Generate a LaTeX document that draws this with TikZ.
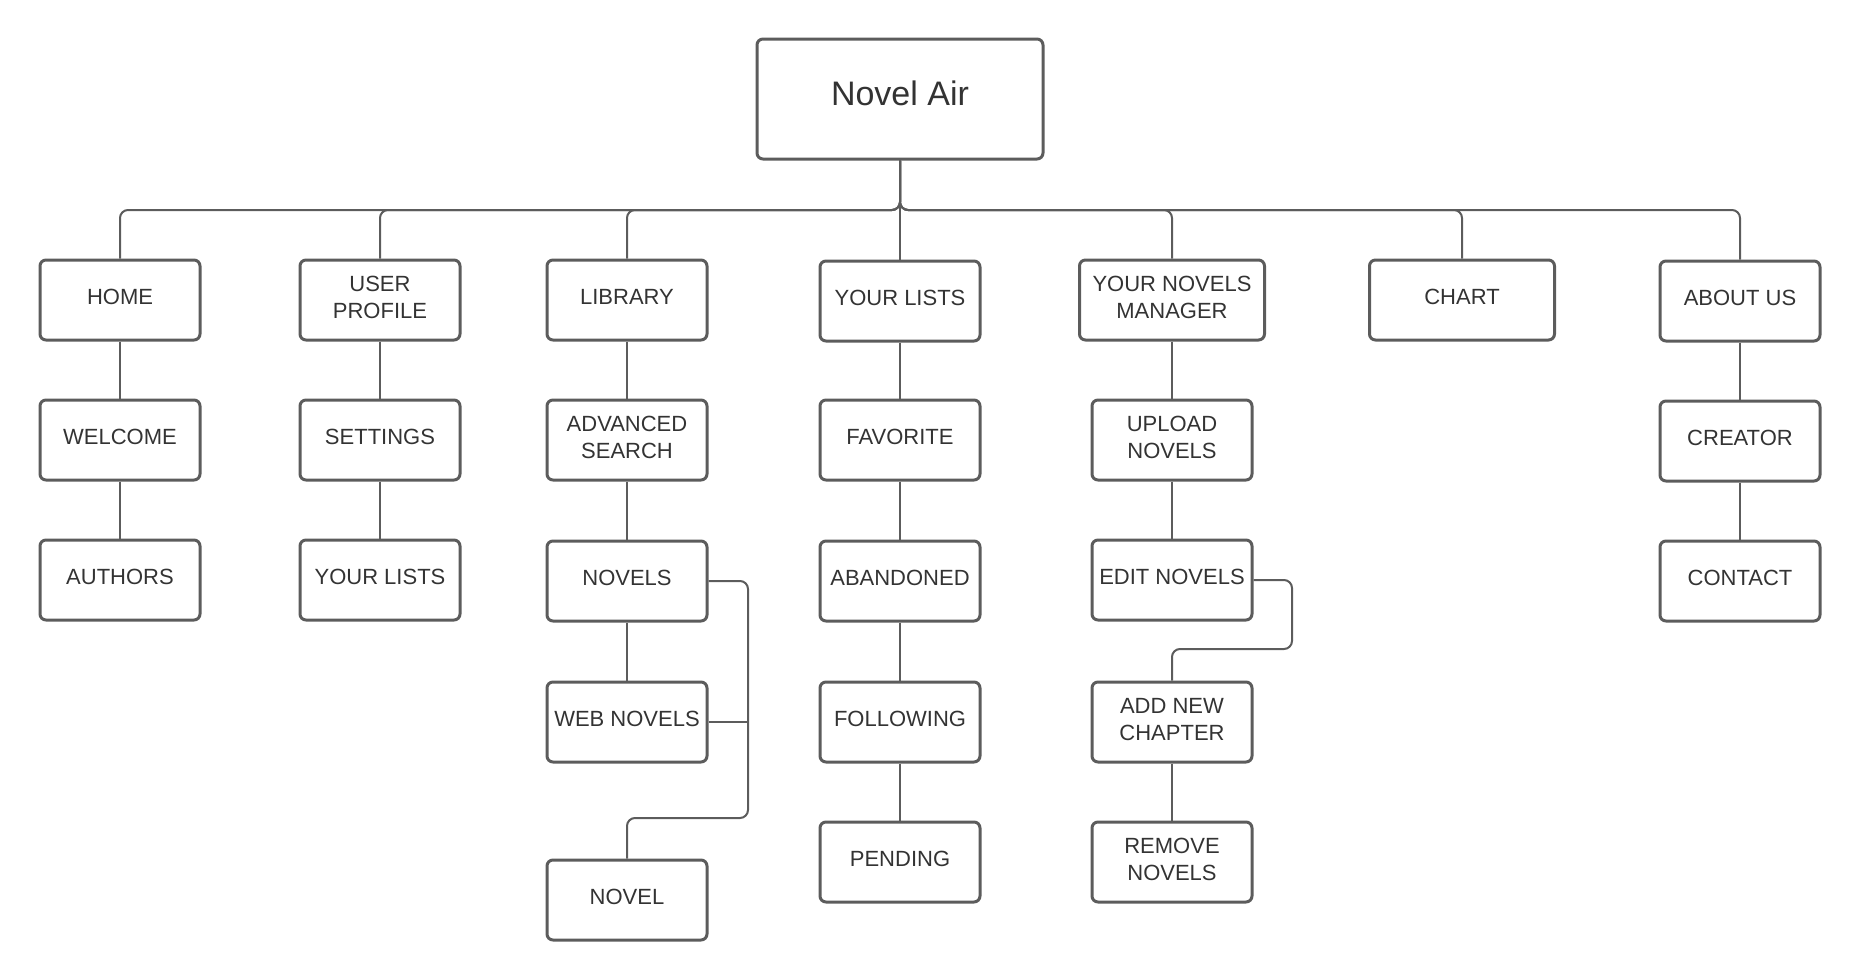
\documentclass[tikz,border=0pt]{standalone}
\usepackage{fontspec}
\setmainfont{Liberation Sans}
\definecolor{linegray}{HTML}{5C5C5C}
\definecolor{textgray}{HTML}{333333}
\tikzset{page/.style = {box/.style = {draw = linegray, line width = 1.5pt, rounded corners = 3pt,
                                    minimum width = 80pt, minimum height = 40pt, inner sep = 2pt,
                                    align = center, text = textgray,
                                    font = \fontsize{11}{13.5}\selectfont,
                                    execute at end node = {\rule[-3pt]{0pt}{0pt}}}}}
\tikzset{widebox/.style = {box, minimum width = 92.5pt}}
\tikzset{rootbox/.style = {box, minimum width = 143pt, minimum height = 60pt,
                           font = \fontsize{17}{20}\selectfont,
                           execute at end node = {\rule[-6pt]{0pt}{0pt}}}}
\tikzset{link/.style = {draw = linegray, line width = 1pt, rounded corners = 4pt}}

\begin{document}
\begin{tikzpicture}[x = 0.5pt, y = 0.5pt, page]
  \useasboundingbox (0, 0) rectangle (1860, -980);

  \node [rootbox] (root) at (900, -99) {Novel Air};

  % first level
  \node [box] (home) at (120, -300) {HOME};
  \node [box] (user) at (380, -300) {USER\\PROFILE};
  \node [box] (library) at (627, -300) {LIBRARY};
  \node [box] (lists) at (900, -301) {YOUR LISTS};
  \node [widebox] (manager) at (1172, -300) {YOUR NOVELS\\MANAGER};
  \node [widebox] (chart) at (1462, -300) {CHART};
  \node [box] (about) at (1740, -301) {ABOUT US};

  % second level
  \node [box] (welcome) at (120, -440) {WELCOME};
  \node [box] (settings) at (380, -440) {SETTINGS};
  \node [box] (search) at (627, -440) {ADVANCED\\SEARCH};
  \node [box] (favorite) at (900, -440) {FAVORITE};
  \node [box] (upload) at (1172, -440) {UPLOAD\\NOVELS};
  \node [box] (creator) at (1740, -441) {CREATOR};

  % third level
  \node [box] (authors) at (120, -580) {AUTHORS};
  \node [box] (userlists) at (380, -580) {YOUR LISTS};
  \node [box] (novels) at (627, -581) {NOVELS};
  \node [box] (abandoned) at (900, -581) {ABANDONED};
  \node [box] (edit) at (1172, -580) {EDIT NOVELS};
  \node [box] (contact) at (1740, -581) {CONTACT};

  % fourth and fifth level
  \node [box] (webnovels) at (627, -722) {WEB NOVELS};
  \node [box] (following) at (900, -722) {FOLLOWING};
  \node [box] (chapter) at (1172, -722) {ADD NEW\\CHAPTER};
  \node [box] (pending) at (900, -862) {PENDING};
  \node [box] (remove) at (1172, -862) {REMOVE\\NOVELS};
  \node [box] (novel) at (627, -900) {NOVEL};

  \coordinate (bus) at (900, -210);
  \coordinate (nbend) at (748, -818);
  \coordinate (ebend) at (1292, -649);

  \foreach \n in {home, user, library, lists, manager, chart, about}
    \draw [link] (root.south) -- (bus) -| (\n.north);

  \draw [link] (home) -- (welcome);
  \draw [link] (welcome) -- (authors);
  \draw [link] (user) -- (settings);
  \draw [link] (settings) -- (userlists);
  \draw [link] (library) -- (search);
  \draw [link] (search) -- (novels);
  \draw [link] (novels) -- (webnovels);
  \draw [link] (lists) -- (favorite);
  \draw [link] (favorite) -- (abandoned);
  \draw [link] (abandoned) -- (following);
  \draw [link] (following) -- (pending);
  \draw [link] (manager) -- (upload);
  \draw [link] (upload) -- (edit);
  \draw [link] (chapter) -- (remove);
  \draw [link] (about) -- (creator);
  \draw [link] (creator) -- (contact);

  \draw [link] (novels.east) -| (nbend) -| (novel.north);
  \draw [link] (webnovels.east) -- (webnovels.east -| nbend);
  \draw [link] (edit.east) -| (ebend) -| (chapter.north);
\end{tikzpicture}
\end{document}
